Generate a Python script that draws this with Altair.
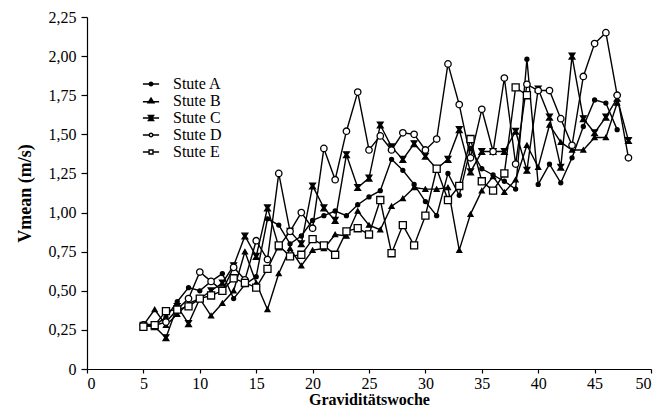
import altair as alt
import pandas as pd

weeks = list(range(5, 49))

stute_a = [0.29, 0.28, 0.33, 0.43, 0.52, 0.50, 0.56, 0.61, 0.45, 0.54, 0.59, 0.96, 0.92, 0.80, 0.85,
           0.95, 0.98, 1.01, 0.98, 1.05, 1.10, 1.14, 1.34, 1.27, 1.18, 1.07, 0.98, 1.25, 1.11, 1.41,
           1.28, 1.24, 1.20, 1.15, 1.98, 1.18, 1.31, 1.19, 1.35, 1.55, 1.72, 1.70, 1.53, None]
stute_b = [0.28, 0.38, 0.28, 0.35, 0.42, 0.45, 0.34, 0.42, 0.50, 0.75, 0.55, 0.38, 0.61, 0.77, 0.66,
           0.76, 0.77, 0.86, 0.85, 1.01, 0.92, 0.89, 1.04, 1.09, 1.16, 1.15, 1.15, 1.16, 0.76, 0.99,
           1.14, 1.23, 1.13, 1.21, 1.43, 1.29, 1.56, 1.45, 1.40, 1.40, 1.48, 1.48, 1.70, None]
stute_c = [0.28, 0.27, 0.20, 0.40, 0.29, 0.45, 0.50, 0.55, 0.66, 0.85, 0.72, 1.03, 0.78, 0.88, 0.80,
           1.17, 1.03, 0.95, 1.37, 1.16, 1.22, 1.56, 1.42, 1.34, 1.44, 1.36, 1.28, 1.34, 1.53, 1.26,
           1.39, 1.39, 1.39, 1.52, 1.27, 1.79, 1.61, 1.29, 2.00, 1.60, 1.51, 1.61, 1.73, 1.46]
stute_d = [0.28, 0.28, 0.30, 0.38, 0.45, 0.62, 0.56, 0.50, 0.65, 0.57, 0.82, 0.70, 1.25, 0.88, 1.00,
           0.90, 1.41, 1.21, 1.52, 1.77, 1.40, 1.49, 1.40, 1.51, 1.50, 1.40, 1.47, 1.95, 1.69, 1.35,
           1.66, 1.39, 1.86, 1.31, 1.82, 1.78, 1.78, 1.60, 1.43, 1.87, 2.08, 2.15, 1.75, 1.35]
stute_e = [0.27, 0.28, 0.37, 0.38, 0.40, 0.45, 0.47, 0.50, 0.58, 0.55, 0.52, 0.64, 0.79, 0.72, 0.73,
           0.83, 0.79, 0.73, 0.88, 0.90, 0.86, 1.08, 0.74, 0.92, 0.79, 0.98, 1.28, 1.08, 1.17, 1.47,
           1.20, 1.14, 1.25, 1.80, 1.75, None, None, None, None, None, None, None, None, None]

names = ["Stute A", "Stute B", "Stute C", "Stute D", "Stute E"]
series = [stute_a, stute_b, stute_c, stute_d, stute_e]

rows = []
for n, vals in zip(names, series):
    for w, v in zip(weeks, vals):
        if v is not None:
            rows.append({"Woche": w, "Vmean": v, "Stute": n})
df = pd.DataFrame(rows)

serif = "Liberation Serif"

bowtie = "M-1,-1L1,-1L0.35,0L1,1L-1,1L-0.35,0Z"
shapes_plot = ["circle", "triangle-up", bowtie, "circle", "square"]
fills = ["black", "black", "black", "white", "white"]
strokes = ["black"] * 5
sizes = [16, 50, 45, 26, 26]

# legend glyphs: short line with the marker on it
leg_shapes = [
    "M-2.5,0H2.5M0.55,0A0.55,0.55,0,1,1,-0.55,0A0.55,0.55,0,1,1,0.55,0Z",
    "M-2.5,0.25H2.5M-0.9,0.55L0.9,0.55L0,-0.9Z",
    "M-2.5,0H2.5M-0.8,-0.8L0.8,-0.8L0.25,0L0.8,0.8L-0.8,0.8L-0.25,0Z",
    "M-2.5,0H-0.55M0.55,0H2.5M0.55,0A0.55,0.55,0,1,1,-0.55,0A0.55,0.55,0,1,1,0.55,0Z",
    "M-2.5,0H-0.6M0.6,0H2.5M-0.6,-0.6H0.6V0.6H-0.6Z",
]

x = alt.X("Woche:Q", scale=alt.Scale(domain=[0, 50], nice=False),
          axis=alt.Axis(values=list(range(0, 51, 5)), title="Graviditätswoche"))
y = alt.Y("Vmean:Q", scale=alt.Scale(domain=[0, 2.25], nice=False),
          axis=alt.Axis(values=[i * 0.25 for i in range(10)], title="Vmean (m/s)",
                        labelExpr="datum.value == 0 ? '0' : replace(format(datum.value, '.2f'), '.', ',')"))

lines = alt.Chart(df).mark_line(color="black", strokeWidth=1.4).encode(
    x=x, y=y, detail="Stute:N")

points = alt.Chart(df).mark_point(filled=False, strokeWidth=1.3, opacity=1).encode(
    x=x, y=y,
    shape=alt.Shape("Stute:N", scale=alt.Scale(domain=names, range=shapes_plot), legend=None),
    fill=alt.Fill("Stute:N", scale=alt.Scale(domain=names, range=fills), legend=None),
    stroke=alt.Stroke("Stute:N", scale=alt.Scale(domain=names, range=strokes), legend=None),
    size=alt.Size("Stute:N", scale=alt.Scale(domain=names, range=sizes), legend=None),
)

leg = alt.Legend(title=None, orient="none", legendX=56, legendY=59, padding=0,
                 labelFont=serif, labelFontSize=16, labelColor="black",
                 symbolStrokeWidth=1.4, symbolSize=42, symbolOpacity=1,
                 rowPadding=1, labelOffset=14)

legend_layer = alt.Chart(df).transform_filter(alt.datum.Woche < 0).mark_point(
    filled=False, strokeWidth=1.4, opacity=1).encode(
    x=x, y=y,
    shape=alt.Shape("Stute:N", scale=alt.Scale(domain=names, range=leg_shapes), legend=leg),
    fill=alt.Fill("Stute:N", scale=alt.Scale(domain=names, range=fills), legend=leg),
    stroke=alt.Stroke("Stute:N", scale=alt.Scale(domain=names, range=strokes), legend=leg),
)

chart = alt.layer(lines, points, legend_layer).resolve_scale(
    shape="independent", fill="independent", stroke="independent", size="independent"
).properties(
    width=564, height=352,
    autosize="none",
    padding={"left": 79, "top": 9, "right": 2, "bottom": 41},
).configure_view(stroke=None).configure_axis(
    domainColor="black", tickColor="black", labelColor="black", titleColor="black",
    labelFont=serif, titleFont=serif, labelFontSize=16,
    titleFontWeight="bold", grid=False, domainWidth=1.2, tickWidth=1.2,
).configure_axisX(labelPadding=2, titlePadding=0, titleFontSize=16, tickSize=4).configure_axisY(
    labelPadding=5, titlePadding=14, titleFontSize=18, tickSize=6
).configure_legend(labelFont=serif, labelFontSize=16)

chart.save("out.html", embed_options={"renderer": "svg", "actions": False})
